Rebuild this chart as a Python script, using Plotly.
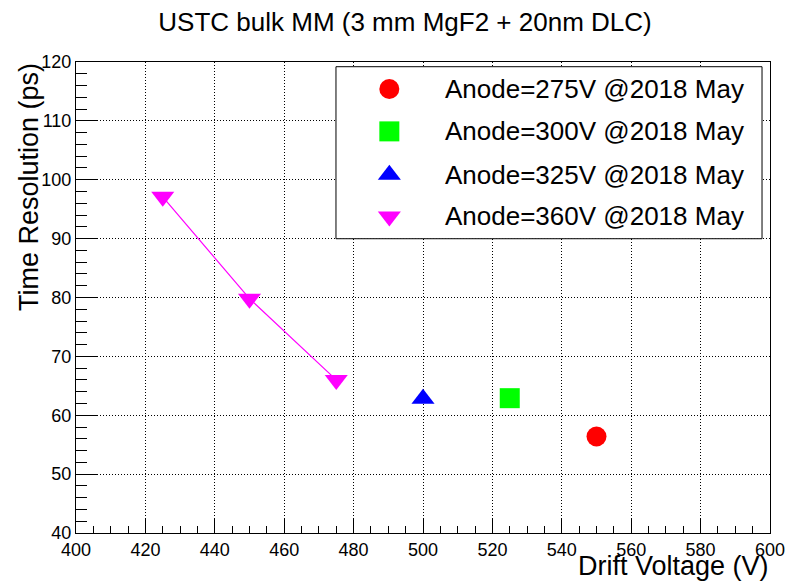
import plotly.graph_objects as go

# Measured time resolution (ps) vs drift voltage (V), one series per anode voltage
series_names = [
    "Anode=275V @2018 May",
    "Anode=300V @2018 May",
    "Anode=325V @2018 May",
    "Anode=360V @2018 May",
]
drift_275 = [550]
res_275 = [56.4]
drift_300 = [525]
res_300 = [62.9]
drift_325 = [500]
res_325 = [62.8]
drift_360 = [425, 450, 475]
res_360 = [97.1, 79.8, 66.0]

# Axis tick values
x_ticks = [400, 420, 440, 460, 480, 500, 520, 540, 560, 580, 600]
y_ticks = [40, 50, 60, 70, 80, 90, 100, 110, 120]

colors = ["#ff0000", "#00ff00", "#0000ff", "#ff00ff"]
symbols = ["circle", "square", "triangle-up", "triangle-down"]
FONT = "Liberation Sans, Arial, Helvetica, sans-serif"
MSIZE = 20

xs = [drift_275, drift_300, drift_325, drift_360]
ys = [res_275, res_300, res_325, res_360]

fig = go.Figure()
for i in range(4):
    fig.add_trace(go.Scatter(
        x=xs[i], y=ys[i], name=series_names[i],
        mode="lines+markers" if len(xs[i]) > 1 else "markers",
        line=dict(color=colors[i], width=1.2),
        marker=dict(symbol=symbols[i], color=colors[i], size=MSIZE,
                    line=dict(width=0)),
        showlegend=False, cliponaxis=False,
    ))

# Boxed key, laid out on an overlay axis spanning the plot area (0..1)
key_left, key_right, key_bottom, key_top = 0.3746, 0.9885, 0.6248, 0.990
key_sym_x = 0.4515
key_text_x = 0.5284
key_rows = [0.9427, 0.8527, 0.7607, 0.6722]

# white filled frame drawn as a trace so it sits above the grid
fig.add_trace(go.Scatter(
    x=[key_left, key_right, key_right, key_left, key_left],
    y=[key_bottom, key_bottom, key_top, key_top, key_bottom],
    xaxis="x2", yaxis="y2", mode="lines", fill="toself",
    fillcolor="white", line=dict(color="black", width=1),
    showlegend=False, hoverinfo="skip",
))
for i in range(4):
    fig.add_trace(go.Scatter(
        x=[key_sym_x], y=[key_rows[i]], xaxis="x2", yaxis="y2",
        mode="markers",
        marker=dict(symbol=symbols[i], color=colors[i], size=MSIZE,
                    line=dict(width=0)),
        showlegend=False, hoverinfo="skip",
    ))
    fig.add_annotation(x=key_text_x, y=key_rows[i], xref="paper", yref="paper",
                       text=series_names[i], showarrow=False,
                       xanchor="left", yanchor="middle",
                       font=dict(family=FONT, size=26, color="black"))

axis_common = dict(
    showgrid=True, gridcolor="black", griddash="1px,2px", gridwidth=1,
    showline=True, linecolor="black", linewidth=1, mirror=True,
    ticks="inside", tickcolor="black", tickwidth=1,
    zeroline=False, automargin=False,
    tickfont=dict(family=FONT, size=18, color="black"),
)

fig.update_layout(
    width=792, height=584, autosize=False,
    margin=dict(l=76, r=22, t=62, b=51),
    paper_bgcolor="white", plot_bgcolor="white",
    font=dict(family=FONT, color="black"),
    title=dict(text="USTC bulk MM (3 mm MgF2 + 20nm DLC)",
               xref="container", x=405 / 792, xanchor="center",
               yref="container", y=1 - 22 / 584, yanchor="middle",
               font=dict(family=FONT, size=26, color="black"),
               automargin=False),
    xaxis=dict(range=[400, 600], tickmode="array", tickvals=x_ticks,
               ticklen=14,
               minor=dict(dtick=5, tick0=400, ticks="inside", ticklen=7,
                          tickcolor="black", tickwidth=1, showgrid=False),
               **axis_common),
    yaxis=dict(range=[40, 120], tickmode="array", tickvals=y_ticks,
               ticklen=21,
               minor=dict(dtick=2, tick0=40, ticks="inside", ticklen=11,
                          tickcolor="black", tickwidth=1, showgrid=False),
               **axis_common),
    xaxis2=dict(range=[0, 1], overlaying="x", visible=False, fixedrange=True,
                automargin=False),
    yaxis2=dict(range=[0, 1], overlaying="y", visible=False, fixedrange=True,
                automargin=False),
    showlegend=False,
)

# Axis titles, right/top aligned
fig.add_annotation(text="Drift Voltage (V)", xref="paper", yref="paper",
                   x=1, y=0, xanchor="right", yanchor="bottom", yshift=-49,
                   borderpad=0, showarrow=False,
                   font=dict(family=FONT, size=27, color="black"))
fig.add_annotation(text="Time Resolution (ps)", xref="paper", yref="paper",
                   x=0, y=1, xanchor="center", yanchor="top", xshift=-47,
                   textangle=-90, borderpad=0, showarrow=False,
                   font=dict(family=FONT, size=27, color="black"))

fig.write_html("out.html")
